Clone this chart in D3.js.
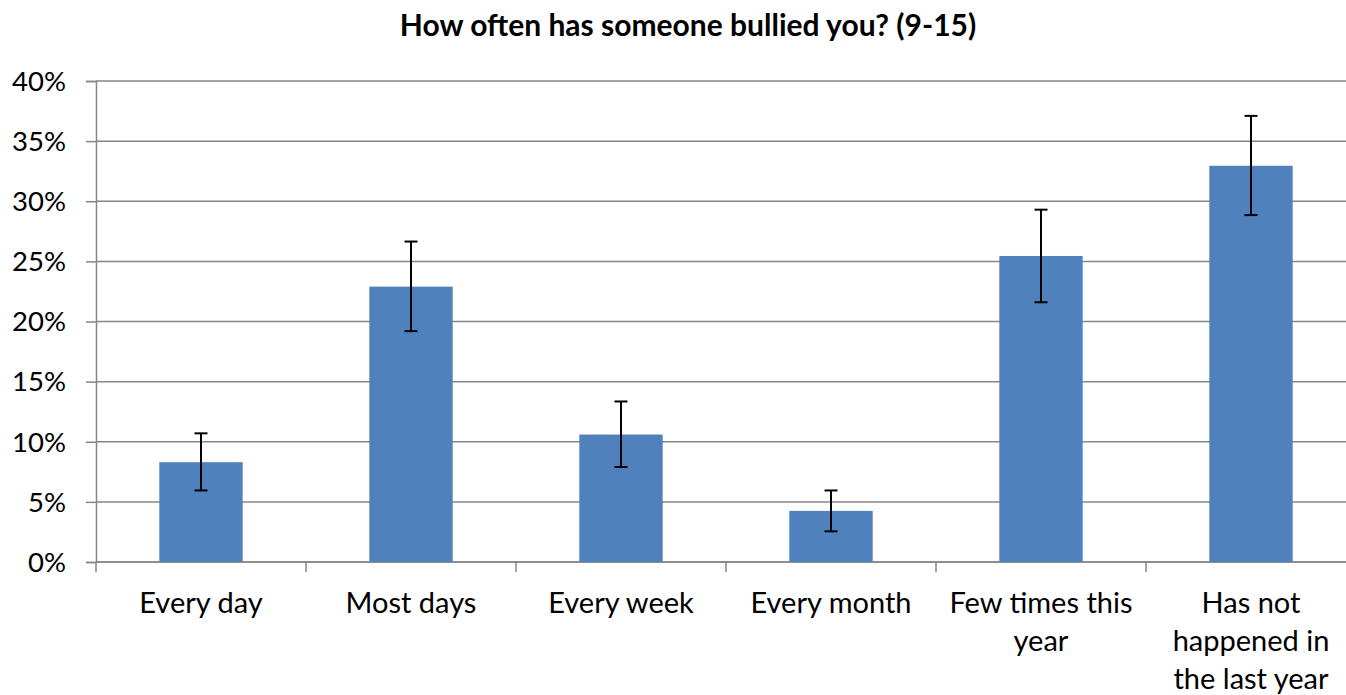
<!DOCTYPE html>
<html><head><meta charset="utf-8">
<script src="https://cdn.jsdelivr.net/npm/d3@7"></script>
<style>body{margin:0;background:#fff;} svg{display:block;}</style>
</head><body>
<script>
const categories = ["Every day","Most days","Every week","Every month","Few times this year","Has not happened in the last year"];
const categoryLines = [["Every day"],["Most days"],["Every week"],["Every month"],["Few times this","year"],["Has not","happened in","the last year"]];
const values = [8.3, 22.9, 10.6, 4.25, 25.45, 32.95];
const errLow = [5.95, 19.2, 7.9, 2.55, 21.6, 28.85];
const errHigh = [10.7, 26.65, 13.35, 5.95, 29.3, 37.1];
const yTicks = [0,5,10,15,20,25,30,35,40];
const title = "How often has someone bullied you? (9-15)";

(function () {
const W = 1346, H = 695;
const mLeft = 96, mTop = 81, mBottom = 562, mRight = 96 + 6*210;
const svg = d3.select("body").append("svg").attr("width", W).attr("height", H);
const font = "Lato, 'Open Sans', sans-serif";

const x = d3.scaleBand().domain(categories).range([mLeft, mRight]).padding(0);
const y = d3.scaleLinear().domain([0, 40]).range([mBottom, mTop]);

// gridlines
svg.append("g").selectAll("line").data(yTicks).join("line")
  .attr("x1", mLeft).attr("x2", mRight)
  .attr("y1", d => y(d)).attr("y2", d => y(d))
  .attr("stroke", "#868686").attr("stroke-width", 1.5);

// y axis
const yAxis = d3.axisLeft(y).tickValues(yTicks).tickSize(10).tickFormat(d => d + "%");
const gy = svg.append("g").attr("transform", `translate(${mLeft},0)`).call(yAxis);
gy.select(".domain").attr("stroke", "#868686").attr("stroke-width", 1.5);
gy.selectAll(".tick line").attr("stroke", "#868686").attr("stroke-width", 1.5);
gy.selectAll(".tick text").attr("x", -30).attr("dy", "0.34em").attr("font-family", font).attr("font-size", 27.5).attr("fill", "#000");

// x axis
const xTickPos = d3.range(categories.length + 1).map(i => mLeft + i * x.step());
svg.append("g").selectAll("line").data(xTickPos).join("line")
  .attr("x1", d => d).attr("x2", d => d).attr("y1", mBottom).attr("y2", mBottom + 10)
  .attr("stroke", "#868686").attr("stroke-width", 1.5);
svg.append("line").attr("x1", mLeft).attr("x2", mRight).attr("y1", mBottom).attr("y2", mBottom)
  .attr("stroke", "#868686").attr("stroke-width", 1.5);

// bars
const bw = x.bandwidth() * 0.397;
const cx = d => x(d) + x.bandwidth() / 2;
svg.append("g").selectAll("rect").data(categories).join("rect")
  .attr("x", d => cx(d) - bw / 2).attr("width", bw)
  .attr("y", (d, i) => y(values[i])).attr("height", (d, i) => y(0) - y(values[i]))
  .attr("fill", "#4f81bd");

// error bars
const eg = svg.append("g").attr("stroke", "#000").attr("stroke-width", 2);
categories.forEach((c, i) => {
  const xc = cx(c);
  eg.append("line").attr("x1", xc).attr("x2", xc).attr("y1", y(errLow[i])).attr("y2", y(errHigh[i]));
  eg.append("line").attr("x1", xc - 6.5).attr("x2", xc + 6.5).attr("y1", y(errLow[i])).attr("y2", y(errLow[i]));
  eg.append("line").attr("x1", xc - 6.5).attr("x2", xc + 6.5).attr("y1", y(errHigh[i])).attr("y2", y(errHigh[i]));
});

// category labels
categories.forEach((c, i) => {
  const t = svg.append("text").attr("text-anchor", "middle").attr("font-family", font)
    .attr("font-size", 29).attr("fill", "#000");
  categoryLines[i].forEach((ln, j) => {
    t.append("tspan").attr("x", cx(c)).attr("y", 613 + j * 38).text(ln);
  });
});

// title
svg.append("text").attr("x", 688).attr("y", 36).attr("text-anchor", "middle")
  .attr("font-family", font).attr("font-weight", "bold").attr("font-size", 30).text(title);
})();
</script>
</body></html>
